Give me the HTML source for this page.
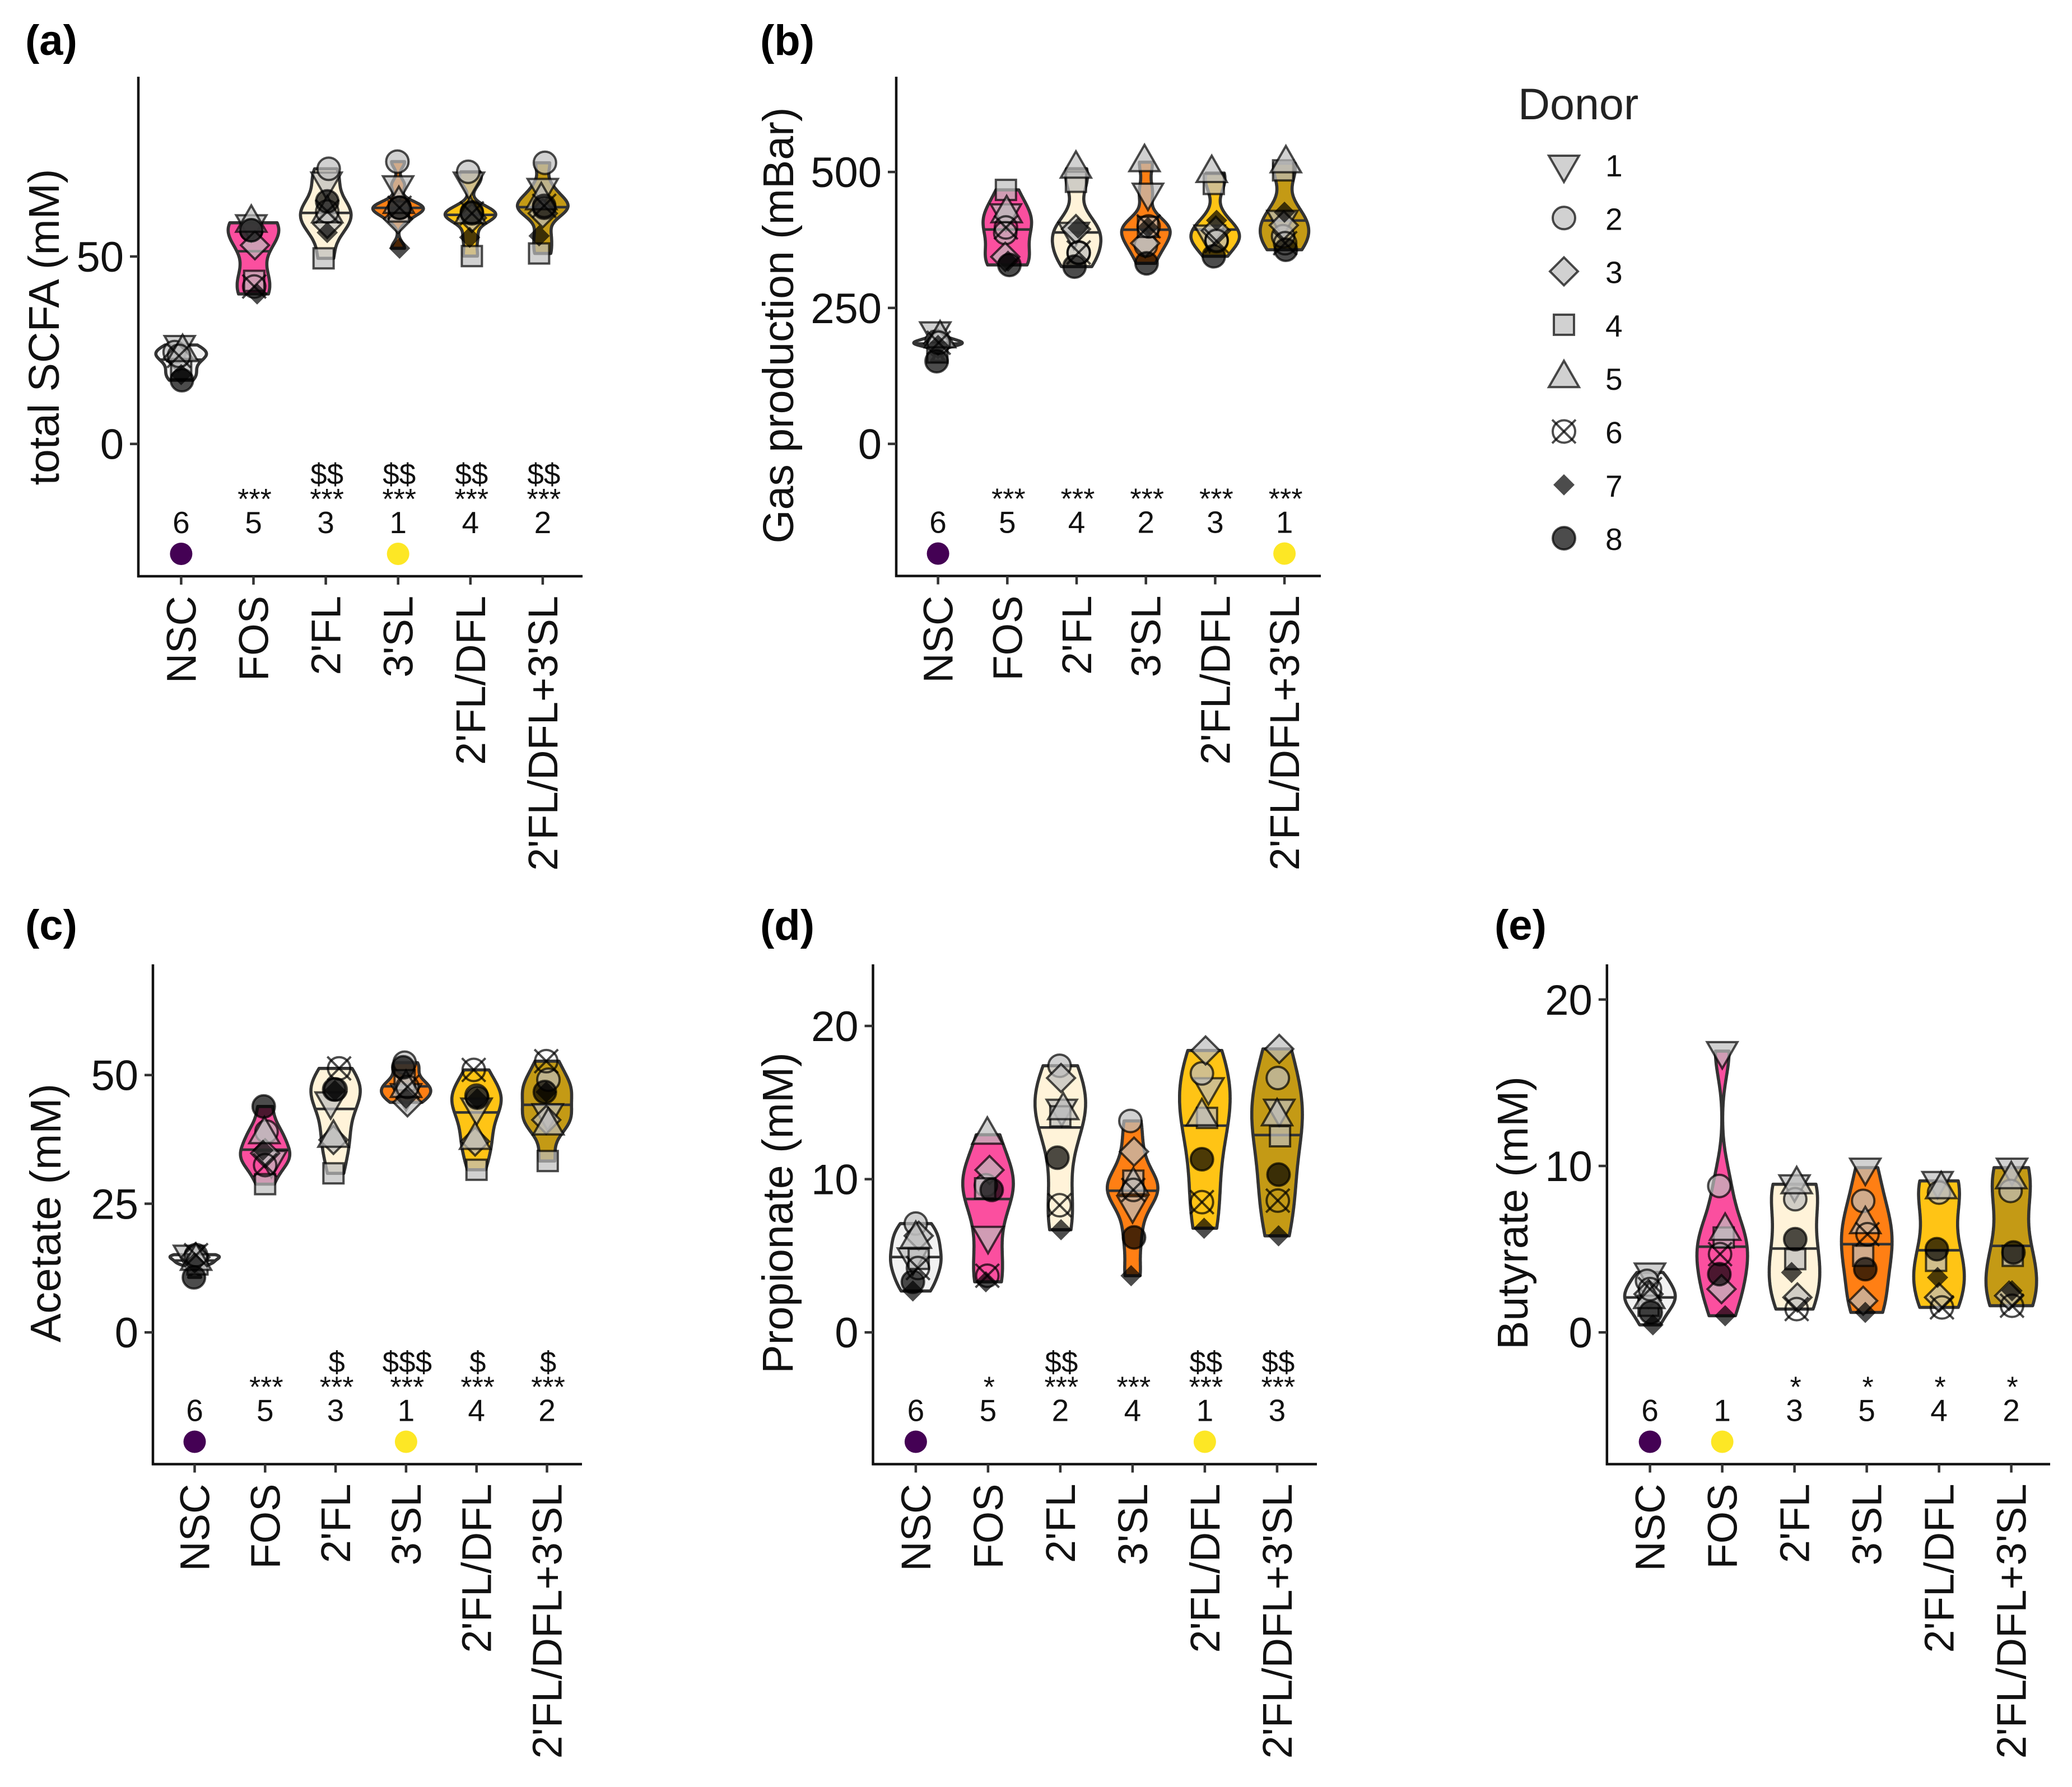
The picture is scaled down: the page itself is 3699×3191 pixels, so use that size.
<!DOCTYPE html>
<html lang="en">
<head>
<meta charset="utf-8">
<title>SCFA and gas production by treatment</title>
<style>
html,body{margin:0;padding:0;background:#fff;}
svg{display:block;font-family:"Liberation Sans",Arial,sans-serif;}
.pt-light{fill:rgba(190,190,190,.7);stroke:rgba(0,0,0,.7);stroke-width:4;}
.pt-dark{fill:rgba(0,0,0,.7);stroke:rgba(0,0,0,.7);stroke-width:4;}
.pt-solid{fill:rgba(0,0,0,.7);stroke:none;}
.pt-none{fill:none;stroke:rgba(0,0,0,.7);stroke-width:4;}
.axis-line{stroke:#111;stroke-width:4.5;fill:none;}
.tick{stroke:#333;stroke-width:4.5;}
.violin{stroke:#333;stroke-width:5.6;stroke-linejoin:round;}
.median{stroke:#333;stroke-width:4.6;}
.title{font-size:77px;fill:#111;}
.letter{font-size:76px;font-weight:bold;fill:#000;}
</style>
</head>
<body>
<svg id="figure" width="3699" height="3191" viewBox="0 0 3699 3191">
  <rect x="0" y="0" width="3699" height="3191" fill="#fff"></rect>

  <text class="letter" x="45" y="98">(a)</text>
  <text class="letter" x="1357" y="98">(b)</text>
  <text class="letter" x="45" y="1678">(c)</text>
  <text class="letter" x="1357" y="1678">(d)</text>
  <text class="letter" x="2668" y="1678">(e)</text>

  <text class="title" transform="translate(105,584) rotate(-90)" text-anchor="middle">total SCFA (mM)</text>
  <text class="title" transform="translate(1416,581) rotate(-90)" text-anchor="middle">Gas production (mBar)</text>
  <text class="title" transform="translate(108,2166) rotate(-90)" text-anchor="middle">Acetate (mM)</text>
  <text class="title" transform="translate(1415,2166) rotate(-90)" text-anchor="middle">Propionate (mM)</text>
  <text class="title" transform="translate(2727,2166) rotate(-90)" text-anchor="middle">Butyrate (mM)</text>

  <g id="panel-a"></g>
  <g id="panel-b"></g>
  <g id="panel-c"></g>
  <g id="panel-d"></g>
  <g id="panel-e"></g>

  <g id="legend">
    <text x="2710" y="213" font-size="79" fill="#222">Donor</text>
  </g>
</svg>

<script>
// ---------- shared categories ----------
const categories = ["NSC", "FOS", "2'FL", "3'SL", "2'FL/DFL", "2'FL/DFL+3'SL"];
const categoryColors = ["#f2f2f2", "#fb4f9f", "#fff3d9", "#ff7f14", "#ffc415", "#c49a15"];
const donors = ["1", "2", "3", "4", "5", "6", "7", "8"];

// ---------- (a) total SCFA: rows = treatments, columns = donors 1..8 ----------
const scfaTicks = [0, 50];
const scfaValues = [
  [26.4, 24.5, 23, 20, 24.5, 23.5, 18.5, 17],
  [58.6, 57, 53, 43.5, 59, 42, 40, 57],
  [70, 73.4, 58.7, 49.5, 61.5, 62, 56.4, 64.7],
  [69, 75.3, 60, 62, 64, 63, 52.2, 63],
  [70, 72.6, 60.3, 50.1, 61.3, 61.5, 55.1, 61.8],
  [68.3, 75, 61.5, 50.8, 65, 63.5, 55.5, 63]
];
const scfaJitter = [
  [-.02, -.09, -.04, 0, .02, -.03, 0, .01],
  [-.03, -.03, .02, .01, -.03, .01, .05, -.03],
  [.01, .04, .02, -.03, .02, .02, .02, .02],
  [0, -.01, 0, .01, .01, .02, .02, .02],
  [-.02, -.03, .02, .02, 0, .02, -.01, .02],
  [0, .03, 0, -.05, -.02, .02, -.05, .02]
];
const scfaRanks = ["6", "5", "3", "1", "4", "2"];
const scfaStars = ["", "***", "***", "***", "***", "***"];
const scfaDollars = ["", "", "$$", "$$", "$$", "$$"];

// ---------- (b) gas production ----------
const gasTicks = [0, 250, 500];
const gasValues = [
  [207, 188, 184, 168, 194, 186, 181, 152],
  [424, 388, 344, 467, 424, 398, 336, 329],
  [390, 351, 395, 482, 506, 352, 397, 326],
  [462, 365, 369, 399, 518, 400, 398, 332],
  [385, 375, 392, 478, 498, 373, 411, 345],
  [412, 382, 402, 503, 516, 369, 426, 357]
];
const gasJitter = [
  [-.04, -.02, 0, -.01, .03, .01, 0, -.02],
  [-.02, -.03, -.03, -.02, -.01, -.02, .01, .03],
  [-.04, .03, -.01, -.01, -.01, .03, .02, -.03],
  [.03, 0, -.01, .03, -.02, .04, .03, .01],
  [-.08, .02, .01, -.02, -.05, .02, .02, -.02],
  [-.03, -.02, -.01, -.02, .02, .01, 0, .02]
];
const gasRanks = ["6", "5", "4", "2", "3", "1"];
const gasStars = ["", "***", "***", "***", "***", "***"];
const gasDollars = ["", "", "", "", "", ""];

// ---------- (c) acetate ----------
const acetateTicks = [0, 25, 50];
const acetateValues = [
  [15.1, 14.6, 14.6, 13.2, 13.9, 15, 13.5, 10.7],
  [33.5, 39, 34.8, 28.8, 38.5, 32.5, 35.4, 43.9],
  [44.9, 47.2, 37.4, 30.9, 37.8, 51.3, 47, 47.2],
  [46.5, 52.4, 44.7, 49, 47.5, 47.7, 45.5, 51.5],
  [43.7, 46, 37.1, 31.6, 37.4, 51, 45.4, 45.6],
  [42.6, 49.1, 41.3, 33.3, 40.2, 52.7, 46.7, 46.7]
];
const acetateJitter = [
  [-.08, .01, .01, .04, .02, .02, 0, -.01],
  [.09, .02, 0, 0, -.01, 0, -.03, -.02],
  [-.07, 0, -.03, -.03, -.03, .05, -.01, -.02],
  [0, -.02, .02, -.02, 0, .02, 0, -.04],
  [0, 0, -.02, 0, -.02, -.04, .01, .01],
  [.01, .02, -.01, .01, .02, -.01, -.01, -.03]
];
const acetateRanks = ["6", "5", "3", "1", "4", "2"];
const acetateStars = ["", "***", "***", "***", "***", "***"];
const acetateDollars = ["", "", "$", "$$$", "$", "$"];

// ---------- (d) propionate ----------
const propionateTicks = [0, 10, 20];
const propionateValues = [
  [4.9, 7.1, 6.3, 4.8, 6.1, 4.2, 2.7, 3.3],
  [6.3, 9.6, 10.6, 9.4, 12.9, 3.7, 3.3, 9.3],
  [14.6, 17.4, 16.6, 14.1, 14.5, 8.3, 6.7, 11.4],
  [8.3, 13.8, 11.8, 9.9, 9.6, 9.3, 3.7, 6.2],
  [16, 16.9, 18.4, 14, 14.1, 8.5, 6.8, 11.3],
  [14.6, 16.6, 18.5, 12.8, 14.1, 8.6, 6.3, 10.3]
];
const propionateJitter = [
  [-.04, 0, .04, .04, 0, .03, -.04, -.04],
  [0, -.03, .02, -.04, -.01, -.01, -.03, .05],
  [.02, -.01, .01, 0, .04, -.01, .01, -.04],
  [0, -.03, .02, .01, .01, .01, -.02, .02],
  [.05, -.04, .01, .03, -.04, -.04, -.01, -.04],
  [.03, .01, .03, .04, 0, .01, .02, .02]
];
const propionateRanks = ["6", "5", "2", "4", "1", "3"];
const propionateStars = ["", "*", "***", "***", "***", "***"];
const propionateDollars = ["", "", "$$", "", "$$", "$$"];

// ---------- (e) butyrate ----------
const butyrateTicks = [0, 10, 20];
const butyrateValues = [
  [3.6, 3.1, 2.3, 1.6, 2, 2.6, 0.45, 1.2],
  [16.9, 8.8, 2.6, 5.7, 6.1, 4.7, 1, 3.5],
  [8.9, 8, 2.1, 4.4, 8.9, 1.4, 3.6, 5.6],
  [9.9, 7.9, 1.9, 4.6, 6.5, 5.9, 1.2, 3.8],
  [9.1, 8.4, 2.1, 4.3, 8.6, 1.5, 3.3, 5],
  [9.9, 8.5, 2.2, 4.6, 9.2, 1.6, 2.5, 4.8]
];
const butyrateJitter = [
  [0, -.04, -.02, -.02, -.01, 0, .04, .01],
  [0, -.04, -.01, .02, .04, -.03, .04, -.04],
  [0, .01, .04, .01, .03, .03, -.04, .01],
  [-.02, -.05, -.05, -.05, -.02, .01, -.02, -.02],
  [-.02, 0, 0, -.04, .03, .04, -.02, -.03],
  [.01, -.01, -.03, .02, 0, .01, .01, .03]
];
const butyrateRanks = ["6", "1", "3", "5", "4", "2"];
const butyrateStars = ["", "", "*", "*", "*", "*"];
const butyrateDollars = ["", "", "", "", "", ""];

// ---------- statistics (Gaussian KDE, R's bw.nrd0, trimmed at the data range) ----------
function quantile7(sorted, p) {
  const h = (sorted.length - 1) * p;
  const lo = Math.floor(h);
  const hi = Math.min(lo + 1, sorted.length - 1);
  return sorted[lo] + (h - lo) * (sorted[hi] - sorted[lo]);
}
function bandwidth(vals) {
  const s = vals.slice().sort((a, b) => a - b);
  const mean = s.reduce((a, b) => a + b, 0) / s.length;
  const sd = Math.sqrt(s.reduce((a, b) => a + (b - mean) * (b - mean), 0) / (s.length - 1));
  const iqr = quantile7(s, .75) - quantile7(s, .25);
  const lo = Math.min(sd, iqr / 1.34) || sd || 1;
  return 0.9 * lo * Math.pow(s.length, -0.2);
}
function violinStats(vals) {
  const bw = bandwidth(vals);
  const min = Math.min.apply(null, vals);
  const max = Math.max.apply(null, vals);
  const ys = [], ds = [];
  const n = 160;
  for (let i = 0; i < n; i++) {
    const y = min + (max - min) * i / (n - 1);
    let d = 0;
    vals.forEach(v => { const z = (y - v) / bw; d += Math.exp(-.5 * z * z); });
    ys.push(y);
    ds.push(d);
  }
  const top = Math.max.apply(null, ds);
  const total = ds.reduce((a, b) => a + b, 0);
  let cum = 0, medY = ys[0], medW = ds[0] / top;
  for (let i = 0; i < n; i++) {
    const prev = cum;
    cum += ds[i] / total;
    if (prev < .5 && cum >= .5 && i > 0) {
      const f = (.5 - prev) / (cum - prev);
      medY = ys[i - 1] + f * (ys[i] - ys[i - 1]);
      medW = (ds[i - 1] + f * (ds[i] - ds[i - 1])) / top;
    }
  }
  return { ys: ys, widths: ds.map(d => d / top), medianY: medY, medianWidth: medW };
}

// ---------- drawing ----------
const svgRoot = document.getElementById('figure');
const svgNS = svgRoot.namespaceURI;
function make(parent, tag, attrs, text) {
  const node = document.createElementNS(svgNS, tag);
  Object.keys(attrs).forEach(k => node.setAttribute(k, attrs[k]));
  if (text !== undefined) node.textContent = text;
  parent.appendChild(node);
  return node;
}
function poly(g, cls, pts) {
  make(g, 'polygon', { class: cls, points: pts.map(p => p.join(',')).join(' ') });
}
function drawDonor(parent, donorIndex, cx, cy) {
  const g = make(parent, 'g', { transform: 'translate(' + cx.toFixed(1) + ',' + cy.toFixed(1) + ')' });
  if (donorIndex === 0) poly(g, 'pt-light', [[-27, -16], [27, -16], [0, 31]]);
  if (donorIndex === 1) make(g, 'circle', { class: 'pt-light', r: 20 });
  if (donorIndex === 2) poly(g, 'pt-light', [[0, -25], [25, 0], [0, 25], [-25, 0]]);
  if (donorIndex === 3) make(g, 'rect', { class: 'pt-light', x: -18, y: -18, width: 36, height: 36 });
  if (donorIndex === 4) poly(g, 'pt-light', [[0, -31], [27, 16], [-27, 16]]);
  if (donorIndex === 5) {
    make(g, 'circle', { class: 'pt-none', r: 20 });
    make(g, 'line', { class: 'pt-none', x1: -21, y1: -21, x2: 21, y2: 21 });
    make(g, 'line', { class: 'pt-none', x1: -21, y1: 21, x2: 21, y2: -21 });
  }
  if (donorIndex === 6) poly(g, 'pt-solid', [[0, -19], [19, 0], [0, 19], [-19, 0]]);
  if (donorIndex === 7) make(g, 'circle', { class: 'pt-dark', r: 20 });
  return g;
}

function drawPanel(cfg) {
  const panel = document.getElementById(cfg.id);
  const xScale = i => cfg.x0 + cfg.step * i;
  const yScale = v => cfg.zeroY - v * cfg.pxPerUnit;
  const halfWidth = cfg.step * 0.7 / 2;

  // violins and medians
  cfg.values.forEach((vals, i) => {
    const st = violinStats(vals);
    const cx = xScale(i);
    let d = '';
    st.ys.forEach((y, k) => {
      d += (k ? 'L' : 'M') + (cx - st.widths[k] * halfWidth).toFixed(1) + ' ' + yScale(y).toFixed(1);
    });
    for (let k = st.ys.length - 1; k >= 0; k--) {
      d += 'L' + (cx + st.widths[k] * halfWidth).toFixed(1) + ' ' + yScale(st.ys[k]).toFixed(1);
    }
    const violin = make(panel, 'path', { class: 'violin', d: d + 'Z', fill: categoryColors[i] });
    
    
    const med = make(panel, 'line', {
      class: 'median',
      x1: cx - st.medianWidth * halfWidth,
      x2: cx + st.medianWidth * halfWidth,
      y1: yScale(st.medianY),
      y2: yScale(st.medianY)
    });
    
    
  });

  // donor points
  cfg.values.forEach((vals, i) => {
    vals.forEach((v, dn) => {
      const pt = drawDonor(panel, dn, xScale(i + cfg.jitter[i][dn]), yScale(v));
      
      
    });
  });

  // axes
  const yAxis = make(panel, 'line', { class: 'axis-line', x1: cfg.axisX, x2: cfg.axisX, y1: cfg.top, y2: cfg.bottom + 2 });
  
  
  const xAxis = make(panel, 'line', { class: 'axis-line', x1: cfg.axisX - 2, x2: cfg.right, y1: cfg.bottom, y2: cfg.bottom });
  
  

  cfg.ticks.forEach(t => {
    const tick = make(panel, 'line', { class: 'tick', x1: cfg.axisX - 15, x2: cfg.axisX, y1: yScale(t), y2: yScale(t) });
    
    
    const label = make(panel, 'text', { x: cfg.axisX - 26, y: yScale(t) + 27, 'text-anchor': 'end', 'font-size': 76, fill: '#111' }, String(t));
    
    
  });

  categories.forEach((c, i) => {
    const x = xScale(i);
    const tick = make(panel, 'line', { class: 'tick', x1: x, x2: x, y1: cfg.bottom, y2: cfg.bottom + 15 });
    
    
    const label = make(panel, 'text', {
      transform: 'translate(' + (x + 26) + ',' + (cfg.bottom + 35) + ') rotate(-90)',
      'text-anchor': 'end', 'font-size': 74, fill: '#111'
    }, c);
    
    

    const rank = make(panel, 'text', { x: x, y: cfg.bottom - 77, 'text-anchor': 'middle', 'font-size': 55, fill: '#111' }, cfg.ranks[i]);
    
    

    if (cfg.stars[i]) {
      const stars = make(panel, 'text', { x: x + 2, y: cfg.bottom - 120, 'text-anchor': 'middle', 'font-size': 52, fill: '#111' }, cfg.stars[i]);
      
      
    }
    if (cfg.dollars[i]) {
      const dollars = make(panel, 'text', { x: x + 2, y: cfg.bottom - 164, 'text-anchor': 'middle', 'font-size': 53, fill: '#111' }, cfg.dollars[i]);
      
      
    }
    if (cfg.ranks[i] === '6' || cfg.ranks[i] === '1') {
      const dot = make(panel, 'circle', { cx: x, cy: cfg.bottom - 40, r: 20, fill: cfg.ranks[i] === '6' ? '#440154' : '#fde725' });
      
      
    }
  });
}

drawPanel({ id: 'panel-a', values: scfaValues, jitter: scfaJitter, ticks: scfaTicks, ranks: scfaRanks, stars: scfaStars, dollars: scfaDollars,
  axisX: 247, top: 137, bottom: 1029, right: 1040, x0: 323.4, step: 129.1, zeroY: 792.7, pxPerUnit: 6.694 });
drawPanel({ id: 'panel-b', values: gasValues, jitter: gasJitter, ticks: gasTicks, ranks: gasRanks, stars: gasStars, dollars: gasDollars,
  axisX: 1600, top: 137, bottom: 1028.5, right: 2358, x0: 1674.6, step: 123.7, zeroY: 792.6, pxPerUnit: 0.971 });
drawPanel({ id: 'panel-c', values: acetateValues, jitter: acetateJitter, ticks: acetateTicks, ranks: acetateRanks, stars: acetateStars, dollars: acetateDollars,
  axisX: 273, top: 1722, bottom: 2614.5, right: 1039, x0: 347.5, step: 125.8, zeroY: 2379.2, pxPerUnit: 9.19 });
drawPanel({ id: 'panel-d', values: propionateValues, jitter: propionateJitter, ticks: propionateTicks, ranks: propionateRanks, stars: propionateStars, dollars: propionateDollars,
  axisX: 1558.5, top: 1722, bottom: 2614.5, right: 2351, x0: 1634.9, step: 129, zeroY: 2379.2, pxPerUnit: 27.36 });
drawPanel({ id: 'panel-e', values: butyrateValues, jitter: butyrateJitter, ticks: butyrateTicks, ranks: butyrateRanks, stars: butyrateStars, dollars: butyrateDollars,
  axisX: 2868.8, top: 1722, bottom: 2614.5, right: 3660, x0: 2945.6, step: 129, zeroY: 2379.2, pxPerUnit: 29.72 });

// legend
const legendGroup = document.getElementById('legend');
donors.forEach((label, i) => {
  const y = 294 + 95.3 * i;
  const key = drawDonor(legendGroup, i, 2792, y);
  
  
  const txt = make(legendGroup, 'text', { x: 2866, y: y + 21, 'font-size': 55, fill: '#111' }, label);
  
  
});
</script>
</body>
</html>
